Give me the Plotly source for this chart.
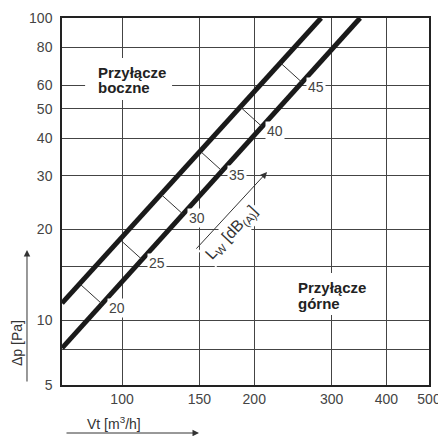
import math
import plotly.graph_objects as go

# ---- axis ticks ----
flow_ticks = [100, 150, 200, 300, 400, 500]
flow_ticktext = ["100", "150", "200", "300", "400", "500"]
dp_ticks = [6.1, 8, 10, 15, 20, 30, 40, 50, 60, 80, 100]
dp_ticktext = ["5", "", "10", "", "20", "30", "40", "50", "60", "80", "100"]
flow_range = [73.0, 500.0]
dp_range = [6.1, 100.0]

# ---- characteristic lines (flow m3/h, pressure Pa) ----
side_flow = [73.0, 284.0]      # Przyłącze boczne
side_dp = [11.38, 100.0]
top_flow = [73.0, 348.4]       # Przyłącze górne
top_dp = [8.08, 100.0]

# ---- sound level marks between lines ----
lw_levels = [20, 25, 30, 35, 40, 45]
lw_upper_flow = [80.4, 99.2, 123.0, 151.0, 186.2, 229.6]
lw_upper_dp = [13.13, 18.41, 25.99, 36.14, 50.66, 71.0]
lw_lower_flow = [90.0, 111.0, 137.7, 169.0, 208.4, 257.0]
lw_lower_dp = [11.32, 15.88, 22.42, 31.16, 43.7, 61.2]
lw_label_flow = [97.4, 120.2, 148.2, 182.8, 223.2, 276.7]
lw_label_dp = [10.96, 15.44, 21.76, 30.2, 42.3, 59.1]

# Lw arrow (tail -> head) and label
lw_arrow_flow = [146.6, 213.9]
lw_arrow_dp = [17.05, 30.9]
lw_text_flow = 177.1
lw_text_dp = 19.41

# region labels and their blank background areas
side_label_flow, side_label_dp = 87.3, [66.2, 58.7]
top_label_flow, top_label_dp = 249.1, [12.86, 11.38]
side_box_flow, side_box_dp = [82.4, 130.0], [53.5, 73.7]
top_box_flow, top_box_dp = [241.5, 371.2], [10.39, 14.31]

FONT = "Liberation Sans, Arial, sans-serif"
L = math.log10

fig = go.Figure()

# white background areas behind the region labels (they interrupt the grid)
for bf, bd in [(side_box_flow, side_box_dp), (top_box_flow, top_box_dp)]:
    fig.add_trace(go.Scatter(x=[bf[0], bf[1], bf[1], bf[0], bf[0]],
                             y=[bd[0], bd[0], bd[1], bd[1], bd[0]],
                             mode="lines", fill="toself", fillcolor="white",
                             line=dict(width=0, color="white"), hoverinfo="skip"))

fig.add_trace(go.Scatter(x=side_flow, y=side_dp, mode="lines",
                         line=dict(color="#1a1a1a", width=5), hoverinfo="skip"))
fig.add_trace(go.Scatter(x=top_flow, y=top_dp, mode="lines",
                         line=dict(color="#1a1a1a", width=5), hoverinfo="skip"))

sx, sy = [], []
for a, b, c, d in zip(lw_upper_flow, lw_upper_dp, lw_lower_flow, lw_lower_dp):
    sx += [a, c, None]
    sy += [b, d, None]
fig.add_trace(go.Scatter(x=sx, y=sy, mode="lines",
                         line=dict(color="#333333", width=1), hoverinfo="skip"))

ann = []
region_font = dict(family=FONT, size=15, color="#222222", weight="bold")
region_items = [(side_label_flow, y, t) for y, t in zip(side_label_dp, ["Przyłącze", "boczne"])] + \
               [(top_label_flow, y, t) for y, t in zip(top_label_dp, ["Przyłącze", "górne"])]
for fx, fy, txt in region_items:
    ann.append(dict(x=L(fx), y=L(fy), xref="x", yref="y", text=txt,
                    xanchor="left", yanchor="middle", showarrow=False, font=region_font))

for lv, fx, fy in zip(lw_levels, lw_label_flow, lw_label_dp):
    ann.append(dict(x=L(fx), y=L(fy), xref="x", yref="y", text=str(lv),
                    xanchor="center", yanchor="middle",
                    showarrow=False, bgcolor="white", borderpad=1,
                    font=dict(family=FONT, size=14, color="#444444")))

# Lw arrow
ann.append(dict(x=L(lw_arrow_flow[1]), y=L(lw_arrow_dp[1]), xref="x", yref="y",
                ax=L(lw_arrow_flow[0]), ay=L(lw_arrow_dp[0]), axref="x", ayref="y",
                text="", showarrow=True, arrowhead=2, arrowsize=1.3, arrowwidth=1,
                arrowcolor="#333333"))
ann.append(dict(x=L(lw_text_flow), y=L(lw_text_dp), xref="x", yref="y",
                text="L<sub>W</sub> [dB<sub>(A)</sub>]", textangle=-47,
                xanchor="center", yanchor="middle",
                showarrow=False, bgcolor="white", borderpad=2,
                font=dict(family=FONT, size=16, color="#333333")))

# axis titles and arrows
ann.append(dict(x=-0.1226, y=0.1144, xref="paper", yref="paper", text="Δp [Pa]",
                textangle=-90, showarrow=False, xanchor="center", yanchor="middle",
                font=dict(family=FONT, size=14, color="#333333")))
ann.append(dict(x=0.1417, y=-0.1035, xref="paper", yref="paper",
                text="Vt [m<sup>3</sup>/h]", showarrow=False,
                xanchor="center", yanchor="middle",
                font=dict(family=FONT, size=14, color="#333333")))
ann.append(dict(x=-0.0954, y=0.3678, xref="paper", yref="paper", ax=0, ay=133,
                axref="pixel", ayref="pixel", text="", showarrow=True,
                arrowhead=2, arrowsize=1.3, arrowwidth=1, arrowcolor="#333333"))
ann.append(dict(x=0.3733, y=-0.1308, xref="paper", yref="paper", ax=-134, ay=0,
                axref="pixel", ayref="pixel", text="", showarrow=True,
                arrowhead=2, arrowsize=1.3, arrowwidth=1, arrowcolor="#333333"))

# the page body adds an 8px offset, so the figure is 8px smaller and margins shifted
fig.update_layout(
    width=438, height=428,
    margin=dict(l=54, r=17, t=10, b=51, autoexpand=False),
    paper_bgcolor="white", plot_bgcolor="white",
    showlegend=False,
    annotations=ann,
    font=dict(family=FONT, size=14, color="#444444"),
)
fig.update_xaxes(type="log", range=[L(flow_range[0]), L(flow_range[1])],
                 tickvals=flow_ticks, ticktext=flow_ticktext, automargin=False,
                 showgrid=True, gridcolor="#444444", gridwidth=1,
                 showline=True, linecolor="#222222", linewidth=1.5, mirror=True,
                 ticks="", ticklabelstandoff=0, zeroline=False,
                 tickfont=dict(family=FONT, size=14, color="#444444"))
fig.update_yaxes(type="log", range=[L(dp_range[0]), L(dp_range[1])],
                 tickvals=dp_ticks, ticktext=dp_ticktext, automargin=False,
                 showgrid=True, gridcolor="#444444", gridwidth=1,
                 showline=True, linecolor="#222222", linewidth=1.5, mirror=True,
                 ticks="", ticklabelstandoff=5, zeroline=False,
                 tickfont=dict(family=FONT, size=14, color="#444444"))

fig.write_html("out.html")
